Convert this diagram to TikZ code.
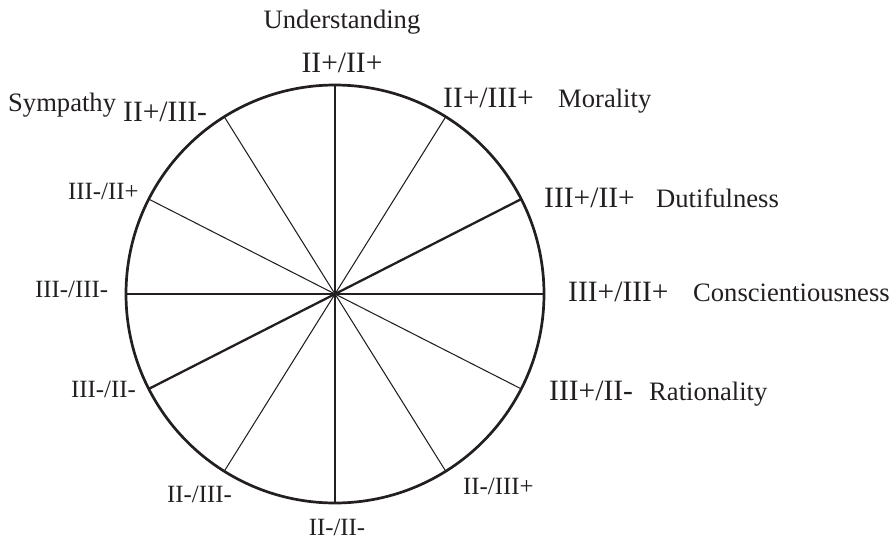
\documentclass[tikz,border=0pt]{standalone}
\usepackage{fontspec}
\setmainfont{Liberation Serif}
\definecolor{ink}{RGB}{35,31,32}
\begin{document}
\begin{tikzpicture}[x=1pt,y=-1pt,
  wheelstyle/.style={circle,draw=ink,line width=2.7pt,inner sep=0pt,outer sep=0pt,minimum size=418pt},
  heavyspoke/.style={draw=ink,line width=2.3pt},
  lightspoke/.style={draw=ink,line width=1.05pt},
  wordlabel/.style={text=ink,inner sep=0pt,font=\fontsize{26.6}{30}\selectfont},
  biglabel/.style={text=ink,inner sep=0pt,font=\fontsize{29.5}{33}\selectfont},
  smalllabel/.style={text=ink,inner sep=0pt,font=\fontsize{24.8}{28}\selectfont}]
\useasboundingbox (0,0) rectangle (892,541);

% the wheel and its spokes
\node[wheelstyle] (wheel) at (335,294) {};
\draw[heavyspoke] (wheel.90) -- (wheel.270);
\draw[heavyspoke] (wheel.0) -- (wheel.180);
\draw[heavyspoke] (wheel.27) -- (wheel.207);
\draw[lightspoke] (wheel.58) -- (wheel.238);
\draw[lightspoke] (wheel.122) -- (wheel.302);
\draw[lightspoke] (wheel.153) -- (wheel.333);

% trait names
\node[wordlabel,anchor=base] (understanding) at (342,28) {Understanding};
\node[wordlabel,anchor=base west] (sympathy) at (8,111) {Sympathy};
\node[wordlabel,anchor=base west] (morality) at (558,107) {Morality};
\node[wordlabel,anchor=base west] (dutifulness) at (656,207) {Dutifulness};
\node[wordlabel,anchor=base west] (conscientiousness) at (693,301) {Conscientiousness};
\node[wordlabel,anchor=base west] (rationality) at (649,400) {Rationality};

% spoke codes, upper and right side
\node[biglabel,anchor=base] (c90) at (342,72) {II+/II+};
\node[biglabel,anchor=base west] (c122) at (123,121) {II+/III-};
\node[biglabel,anchor=base west] (c58) at (443,107) {II+/III+};
\node[biglabel,anchor=base west] (c27) at (544,207) {III+/II+};
\node[biglabel,anchor=base west] (c0) at (568,301) {III+/III+};
\node[biglabel,anchor=base west] (c333) at (549,400) {III+/II-};

% spoke codes, lower and left side
\node[smalllabel,anchor=base west] (c302) at (463,494) {II-/III+};
\node[smalllabel,anchor=base] (c270) at (337,535) {II-/II-};
\node[smalllabel,anchor=base west] (c238) at (167,502) {II-/III-};
\node[smalllabel,anchor=base west] (c207) at (71,397) {III-/II-};
\node[smalllabel,anchor=base west] (c180) at (35,297) {III-/III-};
\node[smalllabel,anchor=base west] (c153) at (68,199) {III-/II+};
\end{tikzpicture}
\end{document}
